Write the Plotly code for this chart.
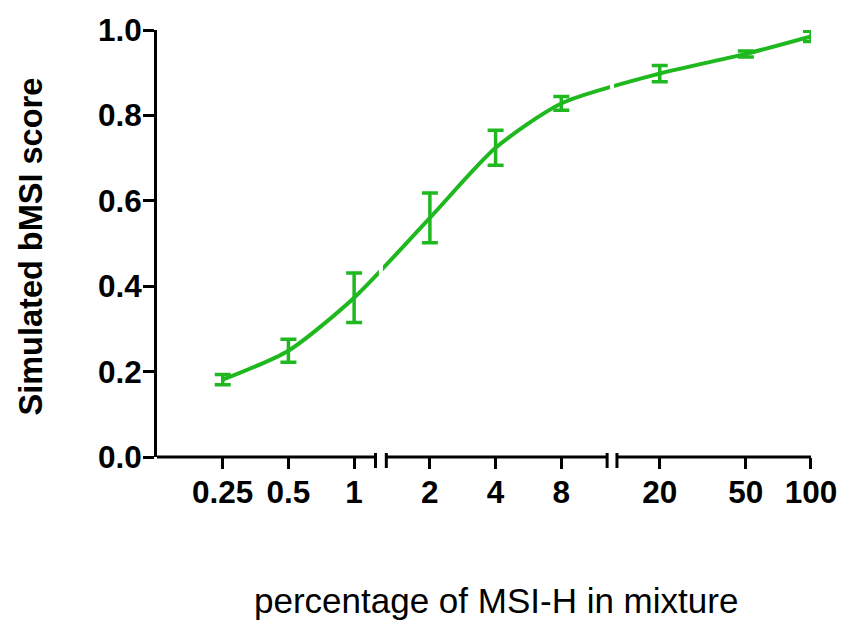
import math
import plotly.graph_objects as go

# ---- data ----
pct = [0.25, 0.5, 1, 2, 4, 8, 20, 50, 100]
pct_labels = ["0.25", "0.5", "1", "2", "4", "8", "20", "50", "100"]
score_mean = [0.181, 0.249, 0.373, 0.560, 0.724, 0.828, 0.898, 0.944, 0.985]
score_err = [0.012, 0.027, 0.058, 0.058, 0.041, 0.016, 0.019, 0.007, 0.012]

GREEN = "#1FB91F"
FONT = "Liberation Sans, Arial, sans-serif"

# broken (segmented) x axis: three log segments
SEGMENTS = [(0.0, 3.325), (3.49, 6.85), (7.0, 9.953)]


def upos(v):
    if v <= 1.25:
        return math.log2(v) + 3.0
    elif v <= 10:
        return 4.153 + math.log2(v / 2.0)
    else:
        return 7.651 + 3.293 * math.log10(v / 20.0)


xu = [upos(v) for v in pct]

fig = go.Figure()
fig.add_trace(go.Scatter(
    x=xu, y=score_mean, mode="lines",
    line=dict(color=GREEN, width=4, shape="spline", smoothing=0.7),
    error_y=dict(type="data", array=score_err, visible=True,
                 color=GREEN, thickness=3.5, width=8),
    cliponaxis=False, showlegend=False,
))

shapes = []
# white gaps in curve at breaks
for i in range(len(SEGMENTS) - 1):
    c = (SEGMENTS[i][1] + SEGMENTS[i + 1][0]) / 2
    shapes.append(dict(type="rect", xref="x", yref="paper", xsizemode="pixel",
                       xanchor=c, x0=-2, x1=2, y0=0.03, y1=1.0,
                       fillcolor="white", line=dict(width=0), layer="above"))
# x axis segments with break bars
for i, (a, b) in enumerate(SEGMENTS):
    shapes.append(dict(type="line", xref="x", yref="paper", x0=a, x1=b, y0=0, y1=0,
                       line=dict(color="black", width=3), layer="above"))
    if i > 0:
        shapes.append(dict(type="line", xref="x", yref="paper", ysizemode="pixel",
                           yanchor=0, x0=a, x1=a, y0=4, y1=-11,
                           line=dict(color="black", width=3), layer="above"))
    if i < len(SEGMENTS) - 1:
        shapes.append(dict(type="line", xref="x", yref="paper", ysizemode="pixel",
                           yanchor=0, x0=b, x1=b, y0=4, y1=-11,
                           line=dict(color="black", width=3), layer="above"))

fig.update_layout(
    width=849, height=626,
    margin=dict(l=157, r=31, t=24, b=169),
    paper_bgcolor="white", plot_bgcolor="white",
    shapes=shapes,
    xaxis=dict(range=[0, 9.953], showline=False, showgrid=False, zeroline=False,
               tickmode="array", tickvals=xu, ticktext=pct_labels,
               ticks="outside", ticklen=11, tickwidth=3, tickcolor="black",
               tickfont=dict(family=FONT, size=31.5, color="black", weight="bold"),
               ticklabelstandoff=-4),
    yaxis=dict(range=[0, 1], showline=True, linewidth=3, linecolor="black",
               showgrid=False, zeroline=False,
               tickmode="array", tickvals=[0, 0.2, 0.4, 0.6, 0.8, 1.0],
               tickformat=".1f",
               ticks="outside", ticklen=11, tickwidth=3, tickcolor="black",
               tickfont=dict(family=FONT, size=31.5, color="black", weight="bold"),
               ticklabelstandoff=-5),
    annotations=[
        dict(text="Simulated bMSI score", textangle=-90, xref="paper", yref="paper",
             x=-0.192, y=0.494, xanchor="center", yanchor="middle", showarrow=False,
             font=dict(family=FONT, size=32.5, color="black", weight="bold")),
        dict(text="percentage of MSI-H in mixture", xref="paper", yref="paper",
             x=0.518, y=-0.335, xanchor="center", yanchor="middle", showarrow=False,
             font=dict(family=FONT, size=35, color="black")),
    ],
)

fig.write_html("out.html")
